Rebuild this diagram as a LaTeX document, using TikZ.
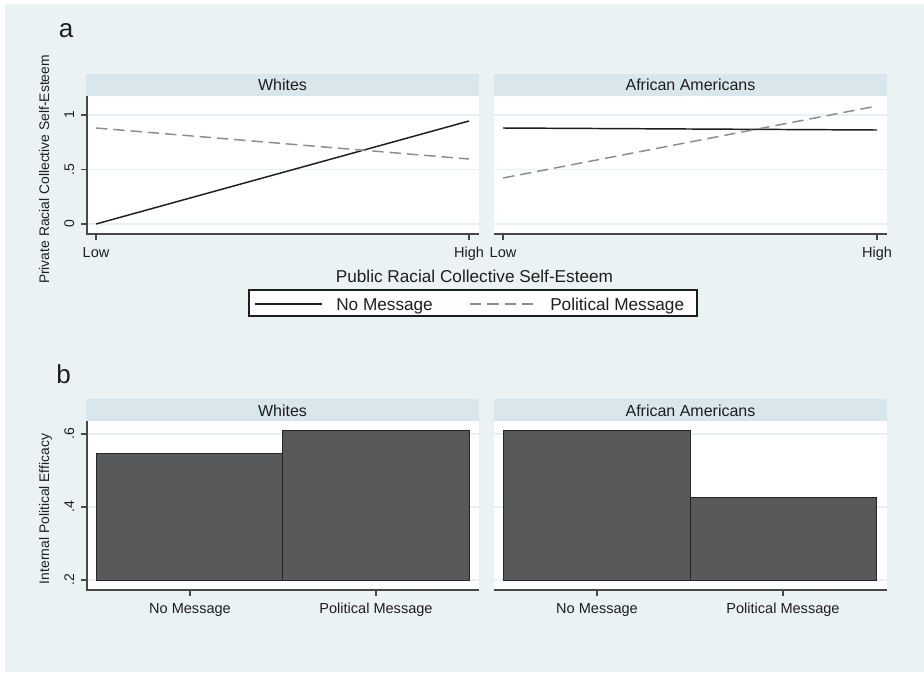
\documentclass[tikz,border=0pt]{standalone}
\usepackage{fontspec}
\setmainfont{Liberation Sans}
\usetikzlibrary{positioning}
\definecolor{bgblue}{RGB}{234,242,243}
\definecolor{stripblue}{RGB}{217,230,235}
\definecolor{gridblue}{RGB}{232,240,242}
\definecolor{axisgray}{RGB}{72,72,72}
\definecolor{barfill}{RGB}{88,89,91}
\definecolor{dashgray}{RGB}{140,140,140}
\definecolor{txtdark}{RGB}{30,30,30}

\begin{document}
\begin{tikzpicture}[
    x=0.75pt, y=-0.75pt,
    panel/.style={fill=white, draw=none},
    strip/.style={fill=stripblue, draw=none},
    striptext/.style={anchor=base, text=txtdark, inner sep=0pt, font=\fontsize{12}{14}\selectfont},
    ticklab/.style={anchor=base, text=txtdark, inner sep=0pt, font=\fontsize{10.9}{13}\selectfont},
    ytick/.style={anchor=base, rotate=90, text=txtdark, inner sep=0pt, font=\fontsize{10.5}{12}\selectfont},
    ytitle/.style={anchor=base, rotate=90, text=txtdark, inner sep=0pt, font=\fontsize{10.4}{12}\selectfont},
    xtitle/.style={anchor=base, text=txtdark, inner sep=0pt, font=\fontsize{12.9}{15}\selectfont},
    panelmark/.style={anchor=base, text=txtdark, inner sep=0pt, font=\fontsize{19.5}{22}\selectfont},
    gridline/.style={draw=gridblue, line width=0.8pt},
    axis/.style={draw=axisgray, line width=0.9pt},
    nomsg/.style={draw=txtdark, line width=1.1pt},
    polmsg/.style={draw=dashgray, line width=1.1pt, dash pattern=on 8.5pt off 4.5pt},
    bar/.style={fill=barfill, draw=black!85, line width=0.6pt}
]
% background
\useasboundingbox (0,0) rectangle (924,672);
\fill[bgblue] (5,4) rectangle (924,672);

% ---------------- panel a ----------------
\node[panelmark] (marka) at (66,37) {a};

% Whites
\fill[strip] (86,74) rectangle (479,96);
\node[striptext] (whitesa) at (282.5,90) {Whites};
\fill[panel] (87,96) rectangle (479,234);
\foreach \yy in {115,169.5,224} \draw[gridline] (87,\yy) -- (479,\yy);
\draw[axis] (87,96) -- (87,234) -- (479,234);
\foreach \yy/\lab in {115/1,169.5/.5,224/0} {
  \draw[axis] (81,\yy) -- (87,\yy);
  \node[ytick] at (74,\yy) {\lab};
}
\foreach \xx in {96,469} \draw[axis] (\xx,234) -- (\xx,240);
\node[ticklab] (lowwa) at (96,257) {Low};
\node[ticklab] (highwa) at (469,257) {High};
\draw[nomsg] (96,224) -- (469,121); % no message
\draw[polmsg] (96,128) -- (469,159); % political message

% African Americans
\fill[strip] (494,74) rectangle (887,96);
\node[striptext] (afama) at (690.5,90) {African Americans};
\fill[panel] (494,96) rectangle (887,234);
\foreach \yy in {115,169.5,224} \draw[gridline] (494,\yy) -- (887,\yy);
\draw[axis] (494,234) -- (887,234);
\foreach \xx in {503,877} \draw[axis] (\xx,234) -- (\xx,240);
\node[ticklab] (lowaa) at (503,257) {Low};
\node[ticklab] (highaa) at (877,257) {High};
\draw[nomsg] (503,128) -- (877,130);
\draw[polmsg] (503,178) -- (877,106);

% axis titles
\node[ytitle] (ytitlea) at (49,169.5) {Private Racial Collective Self-Esteem};
\node[xtitle] (xtitlea) at (474.5,282) {Public Racial Collective Self-Esteem};

% legend
\draw[fill=white, draw=txtdark, line width=0.8pt] (249,290) rectangle (697,316);
\coordinate (nomsgl) at (255,304);
\coordinate (nomsgr) at (322,304);
\draw[nomsg] (nomsgl) -- (nomsgr);
\node[xtitle, anchor=base west] (nomsglab) at (336,310) {No Message};
\coordinate (polmsgl) at (470,304);
\coordinate (polmsgr) at (537,304);
\draw[polmsg] (polmsgl) -- (polmsgr);
\node[xtitle, anchor=base west] (polmsglab) at (550,310) {Political Message};

% ---------------- panel b ----------------
\node[panelmark] (markb) at (63.5,383) {b};

% Whites
\fill[strip] (86,399) rectangle (479,421);
\node[striptext] (whitesb) at (282.5,416) {Whites};
\fill[panel] (87,421) rectangle (479,590);
\foreach \yy in {434,507,580} \draw[gridline] (87,\yy) -- (479,\yy);
\draw[bar] (96,580) rectangle (282,453); % no message
\draw[bar] (282,580) rectangle (469,430); % political message
\draw[axis] (87,421) -- (87,590) -- (479,590);
\foreach \yy/\lab in {434/.6,507/.4,580/.2} {
  \draw[axis] (81,\yy) -- (87,\yy);
  \node[ytick] at (74,\yy) {\lab};
}
\foreach \xx in {190,376} \draw[axis] (\xx,590) -- (\xx,596);
\node[ticklab] (nomwb) at (190,613) {No Message};
\node[ticklab] (polwb) at (376,613) {Political Message};

% African Americans
\fill[strip] (494,399) rectangle (887,421);
\node[striptext] (afamb) at (690.5,416) {African Americans};
\fill[panel] (494,421) rectangle (887,590);
\foreach \yy in {434,507,580} \draw[gridline] (494,\yy) -- (887,\yy);
\draw[bar] (503,580) rectangle (690,430);
\draw[bar] (690,580) rectangle (876,497);
\draw[axis] (494,590) -- (887,590);
\foreach \xx in {597,783} \draw[axis] (\xx,590) -- (\xx,596);
\node[ticklab] (nomab) at (597,613) {No Message};
\node[ticklab] (polab) at (783,613) {Political Message};

\node[ytitle] (ytitleb) at (49,509) {Internal Political Efficacy};
\end{tikzpicture}
\end{document}
